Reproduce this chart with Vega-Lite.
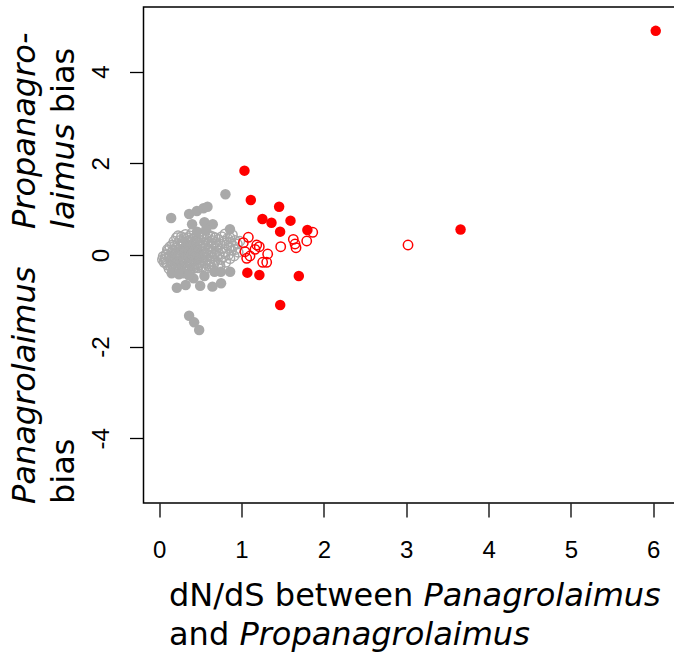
{
  "$schema": "https://vega.github.io/schema/vega-lite/v6.json",
  "width": 532,
  "height": 496,
  "autosize": {"type": "none"},
  "padding": {"left": 143.5, "top": 7, "right": 0, "bottom": 156},
  "background": "white",
  "config": {
    "view": {"stroke": "#000000", "strokeWidth": 1.5}
  },
  "datasets": {
    "pts": [
      {"dnds":0.04,"bias":-0.10,"cls":"go"},{"dnds":0.05,"bias":-0.03,"cls":"go"},{"dnds":0.06,"bias":-0.16,"cls":"go"},
      {"dnds":0.07,"bias":-0.08,"cls":"go"},{"dnds":0.08,"bias":-0.15,"cls":"go"},{"dnds":0.09,"bias":0.02,"cls":"go"},{"dnds":0.10,"bias":-0.22,"cls":"go"},{"dnds":0.11,"bias":0.10,"cls":"go"},{"dnds":0.12,"bias":-0.05,"cls":"go"},{"dnds":0.12,"bias":-0.30,"cls":"go"},{"dnds":0.13,"bias":0.18,"cls":"go"},{"dnds":0.14,"bias":-0.12,"cls":"go"},{"dnds":0.15,"bias":0.05,"cls":"go"},{"dnds":0.09,"bias":-0.18,"cls":"go"},{"dnds":0.13,"bias":-0.02,"cls":"go"},{"dnds":0.10,"bias":0.12,"cls":"go"},{"dnds":0.14,"bias":-0.25,"cls":"go"},{"dnds":0.08,"bias":0.00,"cls":"go"},
      {"dnds":0.16,"bias":0.22,"cls":"go"},{"dnds":0.16,"bias":-0.05,"cls":"go"},{"dnds":0.17,"bias":-0.20,"cls":"go"},{"dnds":0.17,"bias":0.10,"cls":"go"},{"dnds":0.18,"bias":0.30,"cls":"go"},{"dnds":0.18,"bias":-0.32,"cls":"go"},{"dnds":0.19,"bias":0.03,"cls":"go"},{"dnds":0.19,"bias":-0.12,"cls":"go"},{"dnds":0.20,"bias":0.15,"cls":"go"},{"dnds":0.20,"bias":-0.26,"cls":"go"},{"dnds":0.21,"bias":0.38,"cls":"go"},{"dnds":0.21,"bias":-0.08,"cls":"go"},{"dnds":0.22,"bias":0.07,"cls":"go"},{"dnds":0.22,"bias":-0.18,"cls":"go"},{"dnds":0.23,"bias":0.25,"cls":"go"},{"dnds":0.23,"bias":-0.02,"cls":"go"},{"dnds":0.24,"bias":-0.30,"cls":"go"},{"dnds":0.24,"bias":0.12,"cls":"go"},{"dnds":0.25,"bias":0.32,"cls":"go"},{"dnds":0.25,"bias":-0.14,"cls":"go"},{"dnds":0.16,"bias":0.08,"cls":"go"},{"dnds":0.18,"bias":-0.10,"cls":"go"},{"dnds":0.20,"bias":0.00,"cls":"go"},{"dnds":0.22,"bias":-0.34,"cls":"go"},{"dnds":0.24,"bias":0.02,"cls":"go"},{"dnds":0.17,"bias":-0.28,"cls":"go"},{"dnds":0.19,"bias":0.20,"cls":"go"},{"dnds":0.21,"bias":-0.22,"cls":"go"},{"dnds":0.23,"bias":0.42,"cls":"go"},{"dnds":0.25,"bias":0.05,"cls":"go"},
      {"dnds":0.26,"bias":-0.22,"cls":"go"},{"dnds":0.26,"bias":0.18,"cls":"go"},{"dnds":0.27,"bias":0.00,"cls":"go"},{"dnds":0.27,"bias":-0.35,"cls":"go"},{"dnds":0.28,"bias":0.28,"cls":"go"},{"dnds":0.28,"bias":-0.10,"cls":"go"},{"dnds":0.29,"bias":0.08,"cls":"go"},{"dnds":0.29,"bias":-0.28,"cls":"go"},{"dnds":0.30,"bias":0.36,"cls":"go"},{"dnds":0.30,"bias":-0.05,"cls":"go"},{"dnds":0.31,"bias":0.15,"cls":"go"},{"dnds":0.31,"bias":-0.18,"cls":"go"},{"dnds":0.32,"bias":0.45,"cls":"go"},{"dnds":0.32,"bias":-0.30,"cls":"go"},{"dnds":0.33,"bias":0.02,"cls":"go"},{"dnds":0.33,"bias":0.22,"cls":"go"},{"dnds":0.34,"bias":-0.12,"cls":"go"},{"dnds":0.34,"bias":0.30,"cls":"go"},{"dnds":0.35,"bias":-0.25,"cls":"go"},{"dnds":0.35,"bias":0.10,"cls":"go"},{"dnds":0.26,"bias":0.05,"cls":"go"},{"dnds":0.27,"bias":0.40,"cls":"go"},{"dnds":0.28,"bias":-0.20,"cls":"go"},{"dnds":0.29,"bias":0.20,"cls":"go"},{"dnds":0.30,"bias":-0.32,"cls":"go"},{"dnds":0.31,"bias":0.02,"cls":"go"},{"dnds":0.32,"bias":-0.08,"cls":"go"},{"dnds":0.33,"bias":-0.22,"cls":"go"},{"dnds":0.34,"bias":0.06,"cls":"go"},{"dnds":0.35,"bias":0.38,"cls":"go"},{"dnds":0.28,"bias":0.12,"cls":"go"},{"dnds":0.30,"bias":0.25,"cls":"go"},{"dnds":0.32,"bias":0.12,"cls":"go"},{"dnds":0.34,"bias":-0.34,"cls":"go"},{"dnds":0.26,"bias":-0.12,"cls":"go"},
      {"dnds":0.36,"bias":-0.02,"cls":"go"},{"dnds":0.36,"bias":0.20,"cls":"go"},{"dnds":0.37,"bias":-0.16,"cls":"go"},{"dnds":0.37,"bias":0.42,"cls":"go"},{"dnds":0.38,"bias":0.05,"cls":"go"},{"dnds":0.38,"bias":-0.30,"cls":"go"},{"dnds":0.39,"bias":0.28,"cls":"go"},{"dnds":0.39,"bias":-0.08,"cls":"go"},{"dnds":0.40,"bias":0.14,"cls":"go"},{"dnds":0.40,"bias":-0.22,"cls":"go"},{"dnds":0.41,"bias":0.35,"cls":"go"},{"dnds":0.41,"bias":0.00,"cls":"go"},{"dnds":0.42,"bias":-0.14,"cls":"go"},{"dnds":0.42,"bias":0.22,"cls":"go"},{"dnds":0.43,"bias":-0.28,"cls":"go"},{"dnds":0.43,"bias":0.08,"cls":"go"},{"dnds":0.44,"bias":0.30,"cls":"go"},{"dnds":0.44,"bias":-0.05,"cls":"go"},{"dnds":0.45,"bias":0.16,"cls":"go"},{"dnds":0.45,"bias":-0.20,"cls":"go"},{"dnds":0.36,"bias":-0.35,"cls":"go"},{"dnds":0.37,"bias":0.10,"cls":"go"},{"dnds":0.38,"bias":0.32,"cls":"go"},{"dnds":0.39,"bias":-0.18,"cls":"go"},{"dnds":0.40,"bias":0.48,"cls":"go"},{"dnds":0.41,"bias":-0.30,"cls":"go"},{"dnds":0.42,"bias":0.04,"cls":"go"},{"dnds":0.43,"bias":0.38,"cls":"go"},{"dnds":0.44,"bias":-0.12,"cls":"go"},{"dnds":0.45,"bias":0.02,"cls":"go"},{"dnds":0.38,"bias":-0.04,"cls":"go"},{"dnds":0.40,"bias":0.02,"cls":"go"},{"dnds":0.42,"bias":-0.24,"cls":"go"},{"dnds":0.44,"bias":0.12,"cls":"go"},{"dnds":0.36,"bias":0.30,"cls":"go"},
      {"dnds":0.46,"bias":0.26,"cls":"go"},{"dnds":0.46,"bias":-0.10,"cls":"go"},{"dnds":0.47,"bias":0.05,"cls":"go"},{"dnds":0.47,"bias":-0.28,"cls":"go"},{"dnds":0.48,"bias":0.40,"cls":"go"},{"dnds":0.48,"bias":-0.02,"cls":"go"},{"dnds":0.49,"bias":0.18,"cls":"go"},{"dnds":0.49,"bias":-0.18,"cls":"go"},{"dnds":0.50,"bias":0.32,"cls":"go"},{"dnds":0.50,"bias":-0.06,"cls":"go"},{"dnds":0.51,"bias":0.10,"cls":"go"},{"dnds":0.51,"bias":-0.25,"cls":"go"},{"dnds":0.52,"bias":0.45,"cls":"go"},{"dnds":0.52,"bias":0.00,"cls":"go"},{"dnds":0.53,"bias":-0.14,"cls":"go"},{"dnds":0.53,"bias":0.22,"cls":"go"},{"dnds":0.54,"bias":0.08,"cls":"go"},{"dnds":0.54,"bias":-0.32,"cls":"go"},{"dnds":0.55,"bias":0.34,"cls":"go"},{"dnds":0.55,"bias":-0.04,"cls":"go"},{"dnds":0.46,"bias":0.12,"cls":"go"},{"dnds":0.48,"bias":-0.22,"cls":"go"},{"dnds":0.50,"bias":0.20,"cls":"go"},{"dnds":0.52,"bias":-0.10,"cls":"go"},{"dnds":0.54,"bias":0.26,"cls":"go"},{"dnds":0.47,"bias":0.30,"cls":"go"},{"dnds":0.49,"bias":0.00,"cls":"go"},{"dnds":0.51,"bias":0.38,"cls":"go"},{"dnds":0.53,"bias":-0.26,"cls":"go"},{"dnds":0.55,"bias":0.14,"cls":"go"},
      {"dnds":0.56,"bias":-0.18,"cls":"go"},{"dnds":0.56,"bias":0.20,"cls":"go"},{"dnds":0.57,"bias":0.02,"cls":"go"},{"dnds":0.58,"bias":0.36,"cls":"go"},{"dnds":0.58,"bias":-0.10,"cls":"go"},{"dnds":0.59,"bias":0.12,"cls":"go"},{"dnds":0.60,"bias":-0.24,"cls":"go"},{"dnds":0.60,"bias":0.28,"cls":"go"},{"dnds":0.61,"bias":0.00,"cls":"go"},{"dnds":0.62,"bias":0.42,"cls":"go"},{"dnds":0.62,"bias":-0.14,"cls":"go"},{"dnds":0.63,"bias":0.18,"cls":"go"},{"dnds":0.64,"bias":-0.06,"cls":"go"},{"dnds":0.64,"bias":0.32,"cls":"go"},{"dnds":0.65,"bias":0.08,"cls":"go"},{"dnds":0.66,"bias":-0.22,"cls":"go"},{"dnds":0.66,"bias":0.24,"cls":"go"},{"dnds":0.67,"bias":0.02,"cls":"go"},{"dnds":0.68,"bias":0.38,"cls":"go"},{"dnds":0.68,"bias":-0.12,"cls":"go"},{"dnds":0.69,"bias":0.14,"cls":"go"},{"dnds":0.70,"bias":-0.02,"cls":"go"},{"dnds":0.57,"bias":-0.30,"cls":"go"},{"dnds":0.59,"bias":0.44,"cls":"go"},{"dnds":0.61,"bias":-0.20,"cls":"go"},{"dnds":0.63,"bias":0.06,"cls":"go"},{"dnds":0.65,"bias":0.40,"cls":"go"},{"dnds":0.67,"bias":-0.16,"cls":"go"},{"dnds":0.69,"bias":0.28,"cls":"go"},{"dnds":0.70,"bias":0.20,"cls":"go"},
      {"dnds":0.71,"bias":0.10,"cls":"go"},{"dnds":0.72,"bias":-0.20,"cls":"go"},{"dnds":0.72,"bias":0.34,"cls":"go"},{"dnds":0.73,"bias":0.02,"cls":"go"},{"dnds":0.74,"bias":0.24,"cls":"go"},{"dnds":0.75,"bias":-0.10,"cls":"go"},{"dnds":0.76,"bias":0.40,"cls":"go"},{"dnds":0.77,"bias":0.14,"cls":"go"},{"dnds":0.78,"bias":-0.04,"cls":"go"},{"dnds":0.79,"bias":0.30,"cls":"go"},{"dnds":0.80,"bias":0.06,"cls":"go"},{"dnds":0.81,"bias":-0.16,"cls":"go"},{"dnds":0.82,"bias":0.22,"cls":"go"},{"dnds":0.83,"bias":0.36,"cls":"go"},{"dnds":0.84,"bias":0.00,"cls":"go"},{"dnds":0.85,"bias":0.16,"cls":"go"},{"dnds":0.86,"bias":-0.08,"cls":"go"},{"dnds":0.87,"bias":0.28,"cls":"go"},{"dnds":0.88,"bias":0.10,"cls":"go"},{"dnds":0.89,"bias":0.44,"cls":"go"},{"dnds":0.90,"bias":0.20,"cls":"go"},{"dnds":0.91,"bias":-0.02,"cls":"go"},{"dnds":0.92,"bias":0.32,"cls":"go"},{"dnds":0.93,"bias":0.12,"cls":"go"},{"dnds":0.95,"bias":0.24,"cls":"go"},{"dnds":0.96,"bias":0.06,"cls":"go"},{"dnds":0.98,"bias":0.30,"cls":"go"},{"dnds":0.74,"bias":-0.24,"cls":"go"},{"dnds":0.80,"bias":0.46,"cls":"go"},{"dnds":0.86,"bias":0.38,"cls":"go"},
      {"dnds":0.805,"bias":1.324,"cls":"gf"},{"dnds":0.146,"bias":0.807,"cls":"gf"},{"dnds":0.364,"bias":0.895,"cls":"gf"},{"dnds":0.458,"bias":0.96,"cls":"gf"},{"dnds":0.538,"bias":1.019,"cls":"gf"},{"dnds":0.587,"bias":1.054,"cls":"gf"},{"dnds":0.40,"bias":0.67,"cls":"gf"},{"dnds":0.55,"bias":0.713,"cls":"gf"},{"dnds":0.651,"bias":0.67,"cls":"gf"},{"dnds":0.86,"bias":0.56,"cls":"gf"},{"dnds":0.46,"bias":0.51,"cls":"gf"},{"dnds":0.57,"bias":0.55,"cls":"gf"},{"dnds":0.152,"bias":-0.40,"cls":"gf"},{"dnds":0.295,"bias":-0.40,"cls":"gf"},{"dnds":0.417,"bias":-0.51,"cls":"gf"},{"dnds":0.55,"bias":-0.458,"cls":"gf"},{"dnds":0.672,"bias":-0.364,"cls":"gf"},{"dnds":0.749,"bias":-0.364,"cls":"gf"},{"dnds":0.862,"bias":-0.364,"cls":"gf"},{"dnds":0.215,"bias":-0.713,"cls":"gf"},{"dnds":0.322,"bias":-0.655,"cls":"gf"},{"dnds":0.498,"bias":-0.67,"cls":"gf"},{"dnds":0.647,"bias":-0.69,"cls":"gf"},{"dnds":0.752,"bias":-0.618,"cls":"gf"},{"dnds":0.364,"bias":-1.324,"cls":"gf"},{"dnds":0.425,"bias":-1.469,"cls":"gf"},{"dnds":0.486,"bias":-1.636,"cls":"gf"},{"dnds":0.24,"bias":-0.42,"cls":"gf"},{"dnds":0.36,"bias":-0.44,"cls":"gf"},
      {"dnds":1.083,"bias":0.386,"cls":"ro"},{"dnds":1.022,"bias":0.268,"cls":"ro"},{"dnds":1.185,"bias":0.218,"cls":"ro"},{"dnds":1.216,"bias":0.181,"cls":"ro"},{"dnds":1.164,"bias":0.124,"cls":"ro"},{"dnds":1.042,"bias":0.072,"cls":"ro"},{"dnds":1.103,"bias":-0.022,"cls":"ro"},{"dnds":1.063,"bias":-0.072,"cls":"ro"},{"dnds":1.318,"bias":0.022,"cls":"ro"},{"dnds":1.306,"bias":-0.159,"cls":"ro"},{"dnds":1.257,"bias":-0.159,"cls":"ro"},{"dnds":1.476,"bias":0.181,"cls":"ro"},{"dnds":1.629,"bias":0.342,"cls":"ro"},{"dnds":1.65,"bias":0.24,"cls":"ro"},{"dnds":1.662,"bias":0.159,"cls":"ro"},{"dnds":1.792,"bias":0.305,"cls":"ro"},{"dnds":1.865,"bias":0.495,"cls":"ro"},{"dnds":3.022,"bias":0.218,"cls":"ro"},
      {"dnds":1.036,"bias":1.84,"cls":"rf"},{"dnds":1.113,"bias":1.20,"cls":"rf"},{"dnds":1.457,"bias":1.054,"cls":"rf"},{"dnds":1.254,"bias":0.785,"cls":"rf"},{"dnds":1.364,"bias":0.705,"cls":"rf"},{"dnds":1.595,"bias":0.749,"cls":"rf"},{"dnds":1.469,"bias":0.509,"cls":"rf"},{"dnds":1.80,"bias":0.545,"cls":"rf"},{"dnds":1.071,"bias":-0.385,"cls":"rf"},{"dnds":1.217,"bias":-0.436,"cls":"rf"},{"dnds":1.696,"bias":-0.458,"cls":"rf"},{"dnds":1.47,"bias":-1.09,"cls":"rf"},{"dnds":3.66,"bias":0.555,"cls":"rf"},{"dnds":6.03,"bias":4.89,"cls":"rf"}
    ]
  },
  "layer": [
    {
      "data": {"name": "pts"},
      "transform": [{"filter": "datum.cls === 'go'"}],
      "mark": {"type": "point", "shape": "circle", "filled": false, "color": "#A9A9A9", "strokeWidth": 1.5, "size": 88, "opacity": 1},
      "encoding": {
        "x": {"field": "dnds", "type": "quantitative", "scale": {"domain": [-0.19, 6.27], "nice": false, "zero": false},
          "axis": {"title": null, "values": [0, 1, 2, 3, 4, 5, 6], "format": "d", "domain": false, "grid": false, "tickColor": "#000000", "tickWidth": 1.3, "tickSize": 14, "labelFont": "Liberation Sans", "labelFontSize": 24, "labelColor": "#000000", "labelOverlap": false, "labelFlush": false, "labelBound": false, "labelBaseline": "alphabetic", "labelPadding": 40}},
        "y": {"field": "bias", "type": "quantitative", "scale": {"domain": [-5.41, 5.41], "nice": false, "zero": false},
          "axis": {"title": null, "values": [-4, -2, 0, 2, 4], "labelExpr": "'' + datum.value", "domain": false, "grid": false, "tickColor": "#000000", "tickWidth": 1.3, "tickSize": 14, "labelFont": "Liberation Sans", "labelFontSize": 24, "labelColor": "#000000", "labelOverlap": false, "labelFlush": false, "labelBound": false, "labelAngle": 270, "labelAlign": "center", "labelBaseline": "alphabetic", "labelPadding": 21}}
      }
    },
    {
      "data": {"name": "pts"},
      "transform": [{"filter": "datum.cls === 'gf'"}],
      "mark": {"type": "circle", "color": "#A9A9A9", "size": 110, "opacity": 1},
      "encoding": {
        "x": {"field": "dnds", "type": "quantitative"},
        "y": {"field": "bias", "type": "quantitative"}
      }
    },
    {
      "data": {"name": "pts"},
      "transform": [{"filter": "datum.cls === 'ro'"}],
      "mark": {"type": "point", "shape": "circle", "filled": false, "color": "#FF0000", "strokeWidth": 1.5, "size": 88, "opacity": 1},
      "encoding": {
        "x": {"field": "dnds", "type": "quantitative"},
        "y": {"field": "bias", "type": "quantitative"}
      }
    },
    {
      "data": {"name": "pts"},
      "transform": [{"filter": "datum.cls === 'rf'"}],
      "mark": {"type": "circle", "color": "#FF0000", "size": 110, "opacity": 1},
      "encoding": {
        "x": {"field": "dnds", "type": "quantitative"},
        "y": {"field": "bias", "type": "quantitative"}
      }
    },
    {
      "data": {"values": [{}]},
      "mark": {"type": "text", "text": "dN/dS between", "font": "DejaVu Sans", "fontSize": 32, "align": "left", "baseline": "alphabetic", "color": "#000000"},
      "encoding": {"x": {"datum": 0.1196, "type": "quantitative"}, "y": {"datum": -7.657, "type": "quantitative"}}
    },
    {
      "data": {"values": [{}]},
      "mark": {"type": "text", "text": "Panagrolaimus", "font": "DejaVu Sans", "fontSize": 32, "fontStyle": "italic", "align": "left", "baseline": "alphabetic", "color": "#000000"},
      "encoding": {"x": {"datum": 3.2088, "type": "quantitative"}, "y": {"datum": -7.657, "type": "quantitative"}}
    },
    {
      "data": {"values": [{}]},
      "mark": {"type": "text", "text": "and", "font": "DejaVu Sans", "fontSize": 32, "align": "left", "baseline": "alphabetic", "color": "#000000"},
      "encoding": {"x": {"datum": 0.1196, "type": "quantitative"}, "y": {"datum": -8.497, "type": "quantitative"}}
    },
    {
      "data": {"values": [{}]},
      "mark": {"type": "text", "text": "Propanagrolaimus", "font": "DejaVu Sans", "fontSize": 32, "fontStyle": "italic", "align": "left", "baseline": "alphabetic", "color": "#000000"},
      "encoding": {"x": {"datum": 0.9745, "type": "quantitative"}, "y": {"datum": -8.497, "type": "quantitative"}}
    },
    {
      "data": {"values": [{}]},
      "mark": {"type": "text", "text": "Propanagro-", "font": "DejaVu Sans", "fontSize": 32, "fontStyle": "italic", "align": "left", "baseline": "alphabetic", "angle": 270, "color": "#000000"},
      "encoding": {"x": {"datum": -1.51, "type": "quantitative"}, "y": {"datum": 0.567, "type": "quantitative"}}
    },
    {
      "data": {"values": [{}]},
      "mark": {"type": "text", "text": "laimus", "font": "DejaVu Sans", "fontSize": 32, "fontStyle": "italic", "align": "left", "baseline": "alphabetic", "angle": 270, "color": "#000000"},
      "encoding": {"x": {"datum": -1.03, "type": "quantitative"}, "y": {"datum": 0.567, "type": "quantitative"}}
    },
    {
      "data": {"values": [{}]},
      "mark": {"type": "text", "text": "bias", "font": "DejaVu Sans", "fontSize": 32, "align": "left", "baseline": "alphabetic", "angle": 270, "color": "#000000"},
      "encoding": {"x": {"datum": -1.03, "type": "quantitative"}, "y": {"datum": 3.091, "type": "quantitative"}}
    },
    {
      "data": {"values": [{}]},
      "mark": {"type": "text", "text": "Panagrolaimus", "font": "DejaVu Sans", "fontSize": 32, "fontStyle": "italic", "align": "left", "baseline": "alphabetic", "angle": 270, "color": "#000000"},
      "encoding": {"x": {"datum": -1.51, "type": "quantitative"}, "y": {"datum": -5.432, "type": "quantitative"}}
    },
    {
      "data": {"values": [{}]},
      "mark": {"type": "text", "text": "bias", "font": "DejaVu Sans", "fontSize": 32, "align": "left", "baseline": "alphabetic", "angle": 270, "color": "#000000"},
      "encoding": {"x": {"datum": -1.03, "type": "quantitative"}, "y": {"datum": -5.432, "type": "quantitative"}}
    }
  ]
}
